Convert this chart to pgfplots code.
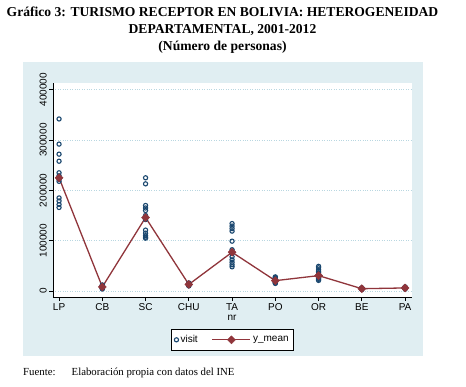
\documentclass[border=0pt]{standalone}
\usepackage{fontspec}
\setmainfont{Liberation Serif}
\setsansfont{Liberation Sans}
\usepackage{pgfplots}
\pgfplotsset{compat=1.18}
\definecolor{statanavy}{RGB}{26,71,111}
\definecolor{statamaroon}{RGB}{144,53,59}
\definecolor{bgblue}{RGB}{224,238,242}
\definecolor{gridblue}{RGB}{185,215,225}
\pgfplotsset{meanlegend/.style={legend image code/.code={\draw[##1] (0pt,0pt) -- (38pt,0pt); \draw[##1] plot coordinates {(19pt,0pt)};}}}
\begin{document}
\begin{tikzpicture}
\path[use as bounding box] (0,0) rectangle (466pt,386pt);
\fill[white] (0,0) rectangle (466pt,386pt);
\fill[bgblue] (23pt,30pt) rectangle (423pt,324pt);
\node[font=\fontsize{13.6}{15}\selectfont\bfseries, anchor=base] at (222.5pt,369pt) {Gráfico 3: TURISMO RECEPTOR EN BOLIVIA: HETEROGENEIDAD};
\node[font=\fontsize{13.6}{15}\selectfont\bfseries, anchor=base] at (222.5pt,352pt) {DEPARTAMENTAL, 2001-2012};
\node[font=\fontsize{13.6}{15}\selectfont\bfseries, anchor=base] at (222.5pt,335.5pt) {(Número de personas)};
\node[font=\fontsize{10.8}{12}\selectfont, anchor=base west, inner sep=0pt] at (23pt,11pt) {Fuente:};
\node[font=\fontsize{10.8}{12}\selectfont, anchor=base west, inner sep=0pt] at (71.5pt,11pt) {Elaboración propia con datos del INE};
\begin{axis}[
  at={(53pt,89pt)}, anchor=south west,
  scale only axis, width=359pt, height=214pt,
  xmin=-0.14, xmax=8.16, ymin=-12000, ymax=413500,
  axis lines*=left,
  axis line style={black, line width=0.7pt},
  axis background/.style={fill=white},
  tick align=outside, major tick length=4pt,
  tick style={black, line width=0.7pt},
  xtick={0,...,8},
  xticklabels={LP,CB,SC,CHU,{TA\\nr},PO,OR,BE,PA},
  xticklabel style={align=center, font=\sffamily\fontsize{10}{10.5}\selectfont, inner sep=2pt},
  scaled y ticks=false,
  ytick={0,100000,200000,300000,400000},
  yticklabels={\textsf{0},\textsf{100000},\textsf{200000},\textsf{300000},\textsf{400000}},
  yticklabel style={rotate=90, anchor=south, font=\sffamily\fontsize{10}{10.5}\selectfont, inner sep=2pt},
  ymajorgrids, grid style={gridblue, dotted, line width=0.9pt},
  legend columns=2,
  legend style={at={(0.5,-0.15)}, anchor=north, draw=black, line width=0.7pt, fill=white,
    font=\sffamily\fontsize{10}{11}\selectfont, inner xsep=3pt, inner ysep=4pt,
    /tikz/every even column/.append style={column sep=12pt}},
  clip=false,
]
\addplot[only marks, mark=o, mark size=2.1pt, draw=statanavy, line width=1.1pt] coordinates {
(0,342000)(0,292000)(0,272000)(0,258000)(0,235000)(0,229000)(0,222000)(0,218000)(0,185000)(0,179000)(0,172000)(0,166000)
(1,4000)(1,5000)(1,6000)(1,7000)(1,7500)(1,8000)(1,8500)(1,9000)(1,10000)(1,11000)(1,12000)(1,6500)
(2,225000)(2,213000)(2,170000)(2,165000)(2,160000)(2,150000)(2,142000)(2,121000)(2,115000)(2,110000)(2,107000)(2,105000)
(3,10000)(3,11000)(3,12000)(3,12500)(3,13000)(3,13500)(3,14000)(3,15000)(3,16000)(3,11500)(3,14500)(3,13000)
(4,134000)(4,129000)(4,124000)(4,119000)(4,99000)(4,82000)(4,75000)(4,68000)(4,62000)(4,57000)(4,52000)(4,48000)
(5,15000)(5,16000)(5,17000)(5,18000)(5,19000)(5,20000)(5,21000)(5,22000)(5,23000)(5,25000)(5,27000)(5,28000)
(6,21000)(6,23000)(6,25000)(6,27000)(6,29000)(6,31000)(6,33000)(6,36000)(6,39000)(6,42000)(6,46000)(6,49000)
(7,3000)(7,3500)(7,4000)(7,4200)(7,4500)(7,4700)(7,5000)(7,5200)(7,5500)(7,5800)(7,6000)(7,4400)
(8,4000)(8,4500)(8,5000)(8,5500)(8,6000)(8,6500)(8,7000)(8,7500)(8,8000)(8,6200)(8,5800)(8,6000)
};
\addlegendentry{visit}
\addplot[statamaroon, line width=1.3pt, mark=square*, mark size=2.8pt,
  mark options={fill=statamaroon, draw=statamaroon, line width=0.5pt, rotate=45}, meanlegend]
 coordinates {
(0,225000)(1,8000)(2,146000)(3,13000)(4,77000)(5,20500)(6,30500)(7,4500)(8,6000)
};
\addlegendentry{y\_mean}
\end{axis}
\end{tikzpicture}
\end{document}
